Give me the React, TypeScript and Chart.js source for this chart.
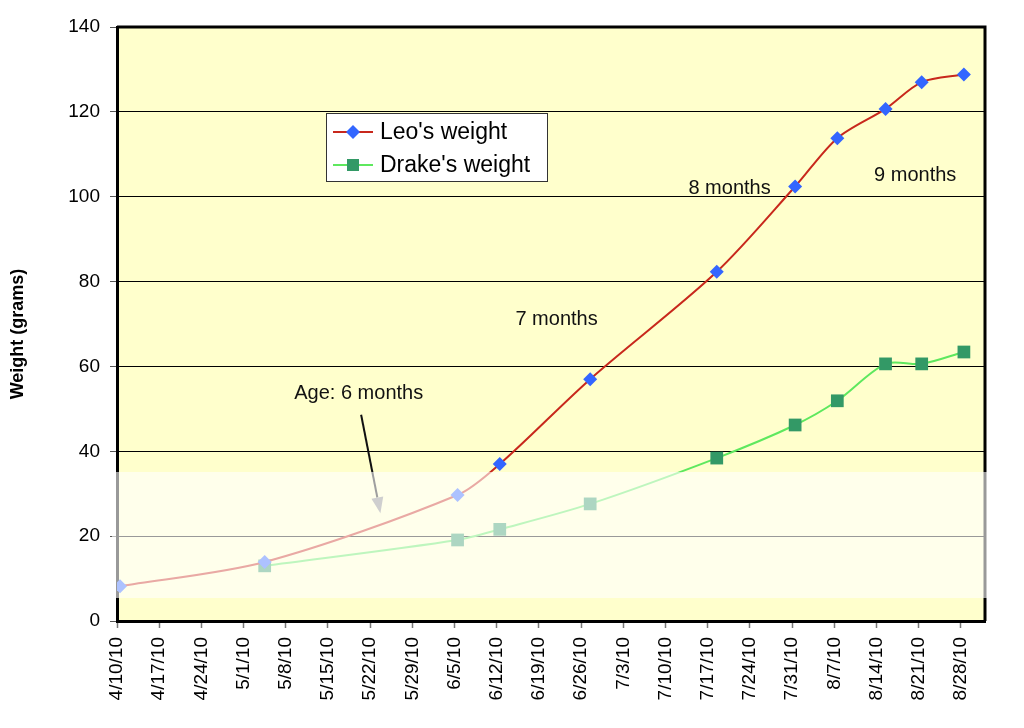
import React, { useEffect, useRef } from 'react';
import { Chart, registerables } from 'chart.js';

Chart.register(...registerables);

// ---- data ----
const measureDates = ['4/10/10', '5/4/10', '6/5/10', '6/12/10', '6/27/10', '7/18/10', '7/31/10', '8/7/10', '8/15/10', '8/21/10', '8/28/10'];
const leoWeight = [8.2, 13.9, 29.7, 37.0, 57.0, 82.3, 102.4, 113.8, 120.7, 127.0, 128.8];
const drakeDates = ['5/4/10', '6/5/10', '6/12/10', '6/27/10', '7/18/10', '7/31/10', '8/7/10', '8/15/10', '8/21/10', '8/28/10'];
const drakeWeight = [13.0, 19.1, 21.6, 27.6, 38.4, 46.2, 51.9, 60.6, 60.6, 63.4];
const seriesNames = ["Leo's weight", "Drake's weight"];
const yMin = 0;
const yMax = 140;
const yStep = 20;
const xStartDate = '4/10/10';
const xTickStepDays = 7;
const xMaxDays = 144;
const annotationTexts = ['Age: 6 months', '7 months', '8 months', '9 months'];
const annotationDays = [29.4, 66.1, 94.8, 125.6];
const annotationValues = [53.7, 71.0, 102.0, 105.1];

const FONT = 'Arial, "Liberation Sans", sans-serif';

function toUTC(s: string) {
  const [m, d, y] = s.split('/').map(Number);
  return Date.UTC(2000 + y, m - 1, d);
}
const startUTC = toUTC(xStartDate);
// Excel date axis: each day occupies a slot; a point sits in the middle of its day's slot
function dayPos(s: string) {
  return Math.round((toUTC(s) - startUTC) / 86400000) + 0.5;
}
function dayLabel(n: number) {
  const dt = new Date(startUTC + n * 86400000);
  return `${dt.getUTCMonth() + 1}/${dt.getUTCDate()}/${String(dt.getUTCFullYear()).slice(2)}`;
}

const leoPoints = measureDates.map((d, i) => ({ x: dayPos(d), y: leoWeight[i] }));
const drakePoints = drakeDates.map((d, i) => ({ x: dayPos(d), y: drakeWeight[i] }));

const LEO_LINE = '#C8281C';
const LEO_MARK = '#3366FF';
const DRAKE_LINE = '#5EE85E';
const DRAKE_MARK = '#339966';

const decorPlugin = {
  id: 'decor',
  beforeDraw(chart: any) {
    const { ctx, chartArea: a } = chart;
    ctx.save();
    ctx.fillStyle = '#FFFFCC';
    ctx.fillRect(a.left, a.top, a.right - a.left, a.bottom - a.top);
    ctx.restore();
  },
  afterDatasetsDraw(chart: any) {
    const { ctx, chartArea: a, scales } = chart;
    const xs = scales.x;
    const ys = scales.y;
    ctx.save();
    // top & right border
    ctx.strokeStyle = '#000';
    ctx.lineWidth = 3;
    ctx.beginPath();
    ctx.moveTo(a.left, a.top);
    ctx.lineTo(a.right, a.top);
    ctx.lineTo(a.right, a.bottom);
    ctx.stroke();

    // arrow for "Age: 6 months"
    const x0 = xs.getPixelForValue(40.5);
    const y0 = ys.getPixelForValue(48.6);
    const x1 = xs.getPixelForValue(43.7);
    const y1 = ys.getPixelForValue(25.4);
    const ang = Math.atan2(y1 - y0, x1 - x0);
    const headLen = 16;
    const headW = 6;
    ctx.strokeStyle = '#111';
    ctx.lineWidth = 2;
    ctx.beginPath();
    ctx.moveTo(x0, y0);
    ctx.lineTo(x1 - Math.cos(ang) * headLen, y1 - Math.sin(ang) * headLen);
    ctx.stroke();
    ctx.fillStyle = '#888';
    ctx.beginPath();
    ctx.moveTo(x1, y1);
    ctx.lineTo(x1 - Math.cos(ang) * headLen - Math.sin(ang) * headW, y1 - Math.sin(ang) * headLen + Math.cos(ang) * headW);
    ctx.lineTo(x1 - Math.cos(ang) * headLen + Math.sin(ang) * headW, y1 - Math.sin(ang) * headLen - Math.cos(ang) * headW);
    ctx.closePath();
    ctx.fill();

    // watermark-like pale band
    ctx.fillStyle = 'rgba(255,255,255,0.6)';
    ctx.fillRect(112, 472, 880, 126);

    // annotation texts
    ctx.fillStyle = '#111';
    ctx.font = `20px ${FONT}`;
    ctx.textAlign = 'left';
    ctx.textBaseline = 'middle';
    annotationTexts.forEach((t, i) => {
      ctx.fillText(t, xs.getPixelForValue(annotationDays[i]), ys.getPixelForValue(annotationValues[i]));
    });

    // legend box
    const lx = 326, ly = 113, lw = 221, lh = 68;
    ctx.fillStyle = '#fff';
    ctx.fillRect(lx, ly, lw, lh);
    ctx.strokeStyle = '#333';
    ctx.lineWidth = 1;
    ctx.strokeRect(lx + 0.5, ly + 0.5, lw, lh);
    const rows = [ly + 19, ly + 52];
    // Leo
    ctx.strokeStyle = LEO_LINE;
    ctx.lineWidth = 2;
    ctx.beginPath();
    ctx.moveTo(lx + 7, rows[0]);
    ctx.lineTo(lx + 47, rows[0]);
    ctx.stroke();
    ctx.fillStyle = LEO_MARK;
    ctx.beginPath();
    ctx.moveTo(lx + 27 - 7, rows[0]);
    ctx.lineTo(lx + 27, rows[0] - 7);
    ctx.lineTo(lx + 27 + 7, rows[0]);
    ctx.lineTo(lx + 27, rows[0] + 7);
    ctx.closePath();
    ctx.fill();
    // Drake
    ctx.strokeStyle = DRAKE_LINE;
    ctx.beginPath();
    ctx.moveTo(lx + 7, rows[1]);
    ctx.lineTo(lx + 47, rows[1]);
    ctx.stroke();
    ctx.fillStyle = DRAKE_MARK;
    ctx.fillRect(lx + 27 - 6, rows[1] - 6, 12, 12);
    ctx.fillStyle = '#000';
    ctx.font = `23px ${FONT}`;
    ctx.textBaseline = 'middle';
    ctx.fillText(seriesNames[0], lx + 54, rows[0] + 1);
    ctx.fillText(seriesNames[1], lx + 54, rows[1] + 1);

    // y axis title
    ctx.save();
    ctx.translate(18, 334);
    ctx.rotate(-Math.PI / 2);
    ctx.textAlign = 'center';
    ctx.textBaseline = 'middle';
    ctx.font = `bold 18px ${FONT}`;
    ctx.fillStyle = '#000';
    ctx.fillText('Weight (grams)', 0, 0);
    ctx.restore();

    ctx.restore();
  },
};

export default function App() {
  const ref = useRef<HTMLCanvasElement | null>(null);
  useEffect(() => {
    document.body.style.margin = '0';
    const canvas = ref.current;
    if (!canvas) return;
    const chart = new Chart(canvas, {
      type: 'line',
      data: {
        datasets: [
          {
            label: seriesNames[0],
            data: leoPoints,
            borderColor: LEO_LINE,
            backgroundColor: LEO_MARK,
            borderWidth: 2,
            pointStyle: 'rectRot',
            pointRadius: 7,
            pointBorderWidth: 0,
            pointBackgroundColor: LEO_MARK,
            pointBorderColor: LEO_MARK,
            tension: 0.3,
            fill: false,
          },
          {
            label: seriesNames[1],
            data: drakePoints,
            borderColor: DRAKE_LINE,
            backgroundColor: DRAKE_MARK,
            borderWidth: 2,
            pointStyle: 'rect',
            pointRadius: 9,
            pointBorderWidth: 0,
            pointBackgroundColor: DRAKE_MARK,
            pointBorderColor: DRAKE_MARK,
            tension: 0.3,
            fill: false,
          },
        ],
      },
      options: {
        animation: false,
        responsive: false,
        layout: { padding: { left: 0, right: 39, top: 27, bottom: 0 } },
        plugins: {
          legend: { display: false },
          tooltip: { enabled: false },
          title: { display: false },
        },
        scales: {
          x: {
            type: 'linear',
            min: 0,
            max: xMaxDays,
            afterBuildTicks: (s: any) => {
              s.ticks = s.ticks.filter((t: any) => t.value % xTickStepDays === 0);
            },
            afterFit: (s: any) => {
              s.height = 107;
            },
            ticks: {
              stepSize: xTickStepDays,
              autoSkip: false,
              minRotation: 90,
              maxRotation: 90,
              padding: 9,
              color: '#000',
              font: { family: FONT, size: 19 },
              callback: (v: any) => dayLabel(Number(v)),
            },
            grid: {
              drawOnChartArea: false,
              drawTicks: true,
              tickLength: 7,
              tickColor: '#777',
              tickWidth: 1.5,
            },
            border: { color: '#000', width: 3 },
          },
          y: {
            min: yMin,
            max: yMax,
            afterFit: (s: any) => {
              s.width = 117;
            },
            ticks: {
              stepSize: yStep,
              padding: 10,
              color: '#000',
              font: { family: FONT, size: 19 },
            },
            grid: {
              color: '#000',
              lineWidth: 1,
              tickLength: 7,
              tickColor: '#555',
            },
            border: { color: '#000', width: 3 },
          },
        },
      },
      plugins: [decorPlugin],
    } as any);
    return () => chart.destroy();
  }, []);
  return (
    <div style={{ width: 1024, height: 728 }}>
      <canvas ref={ref} width={1024} height={728} />
    </div>
  );
}
